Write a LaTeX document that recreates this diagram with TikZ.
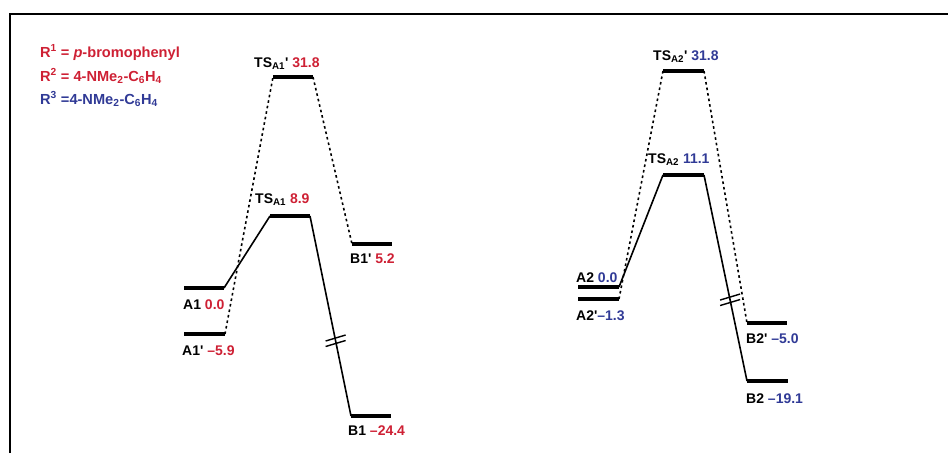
\documentclass[tikz,border=0pt]{standalone}
\usepackage{fontspec}
\setmainfont{Liberation Sans}
\usetikzlibrary{calc}
\definecolor{ered}{RGB}{206,32,52}
\definecolor{eblue}{RGB}{48,58,150}
\newcommand{\sbs}[1]{\textsubscript{#1}}
\newcommand{\sps}[1]{\textsuperscript{#1}}
\tikzset{
  lvl/.style={line width=3.2pt},
  conn/.style={line width=1.6pt},
  dconn/.style={line width=1.6pt, dash pattern=on 2.6pt off 3pt},
  lbl/.style={anchor=base west, inner sep=0pt, font=\fontsize{14}{16}\selectfont\bfseries},
  leg/.style={anchor=base west, inner sep=0pt, font=\fontsize{14.6}{17}\selectfont\bfseries},
  brk/.style={line width=1.4pt},
}
\begin{document}
\begin{tikzpicture}[x=1pt,y=-1pt]
\useasboundingbox (0,0) rectangle (948,453);
% frame
\draw[line width=2.2pt] (10,453) -- (10,14) -- (948,14);
% legend
\node[leg, text=ered] (r1) at (40,57) {R\sps{1} = \textit{p}-bromophenyl};
\node[leg, text=ered] (r2) at (40,81) {R\sps{2} = 4-NMe\sbs{2}-C\sbs{6}H\sbs{4}};
\node[leg, text=eblue] (r3) at (40,104) {R\sps{3} =4-NMe\sbs{2}-C\sbs{6}H\sbs{4}};
% ---- left diagram levels
\coordinate (A1l) at (184,288); \coordinate (A1r) at (224,288);
\coordinate (A1pl) at (184,334); \coordinate (A1pr) at (225,334);
\coordinate (T1l) at (270,216); \coordinate (T1r) at (310,216);
\coordinate (T1pl) at (273,77); \coordinate (T1pr) at (313,77);
\coordinate (B1pl) at (352,244); \coordinate (B1pr) at (392,244);
\coordinate (B1l) at (351,416); \coordinate (B1r) at (391,416);
\foreach \a/\b in {A1l/A1r, A1pl/A1pr, T1l/T1r, T1pl/T1pr, B1pl/B1pr, B1l/B1r}
  \draw[lvl] (\a) -- (\b);
\draw[conn] (A1r) -- (T1l);
\draw[conn] (T1r) -- (B1l);
\draw[dconn] (A1pr) -- (T1pl);
\draw[dconn] (T1pr) -- (B1pl);
\coordinate (k1) at ($(T1r)!0.625!(B1l)$);
\draw[brk] ($(k1)+(-10,5.5)$) -- ($(k1)+(10,-0.5)$);
\draw[brk] ($(k1)+(-10,0)$) -- ($(k1)+(10,-6)$);
% labels left
\node[lbl] (lT1p) at (254,67) {TS\sbs{A1}\textquotesingle\ \textcolor{ered}{31.8}};
\node[lbl] (lT1) at (255,203) {TS\sbs{A1} \textcolor{ered}{8.9}};
\node[lbl] (lA1) at (183,309) {A1 \textcolor{ered}{0.0}};
\node[lbl] (lA1p) at (182,355) {A1\textquotesingle\ \textcolor{ered}{–5.9}};
\node[lbl] (lB1p) at (350,263) {B1\textquotesingle\ \textcolor{ered}{5.2}};
\node[lbl] (lB1) at (348,435) {B1 \textcolor{ered}{–24.4}};
% ---- right diagram levels
\coordinate (A2l) at (578,287); \coordinate (A2r) at (619,287);
\coordinate (A2pl) at (578,299); \coordinate (A2pr) at (619,299);
\coordinate (T2l) at (663,175); \coordinate (T2r) at (704,175);
\coordinate (T2pl) at (663,71); \coordinate (T2pr) at (704,71);
\coordinate (B2pl) at (747,323); \coordinate (B2pr) at (787,323);
\coordinate (B2l) at (747,381); \coordinate (B2r) at (788,381);
\foreach \a/\b in {A2l/A2r, A2pl/A2pr, T2l/T2r, T2pl/T2pr, B2pl/B2pr, B2l/B2r}
  \draw[lvl] (\a) -- (\b);
\draw[conn] (A2r) -- (T2l);
\draw[conn] (T2r) -- (B2l);
\draw[dconn] (A2pr) -- (T2pl);
\draw[dconn] (T2pr) -- (B2pl);
\coordinate (k2) at ($(T2r)!0.607!(B2l)$);
\draw[brk] ($(k2)+(-10,5.5)$) -- ($(k2)+(10,-0.5)$);
\draw[brk] ($(k2)+(-10,0)$) -- ($(k2)+(10,-6)$);
% labels right
\node[lbl] (lT2p) at (653,60) {TS\sbs{A2}\textquotesingle\ \textcolor{eblue}{31.8}};
\node[lbl] (lT2) at (648,163) {TS\sbs{A2} \textcolor{eblue}{11.1}};
\node[lbl] (lA2) at (576,282) {A2 \textcolor{eblue}{0.0}};
\node[lbl] (lA2p) at (576,320) {A2\textquotesingle\textcolor{eblue}{–1.3}};
\node[lbl] (lB2p) at (746,343) {B2\textquotesingle\ \textcolor{eblue}{–5.0}};
\node[lbl] (lB2) at (746,403) {B2 \textcolor{eblue}{–19.1}};
\end{tikzpicture}
\end{document}
